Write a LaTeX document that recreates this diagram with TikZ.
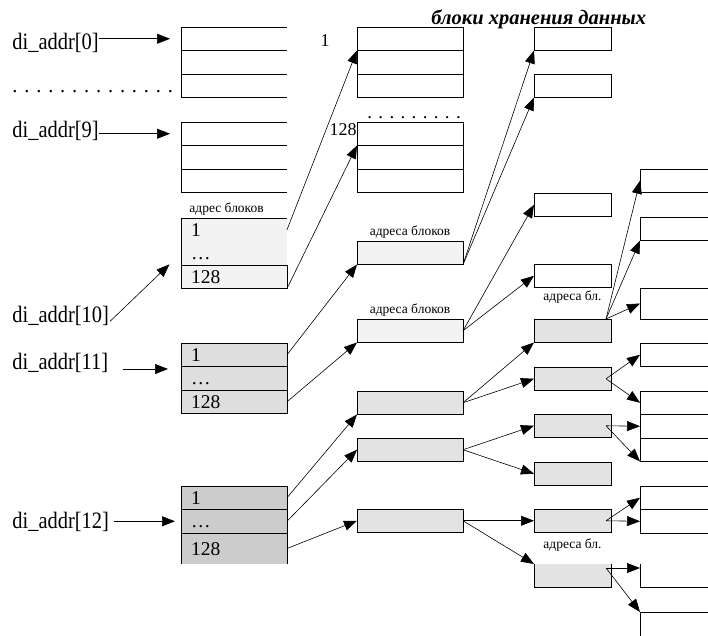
\documentclass[tikz,border=0pt]{standalone}
\usepackage{fontspec}
\setmainfont{Liberation Serif}
\newfontfamily\addrfont[FakeStretch=0.87]{Liberation Serif}
\usetikzlibrary{positioning,arrows.meta}

\definecolor{palecell}{gray}{0.95}
\definecolor{midcell}{gray}{0.89}
\definecolor{thickcell}{gray}{0.87}
\definecolor{deepcell}{gray}{0.80}

\begin{document}
\begin{tikzpicture}[x=1pt, y=-1pt, line width=0.8pt,
  blk/.style={rectangle, inner sep=0pt, outer sep=0pt, minimum height=23.5pt, anchor=north west},
  acol/.style={blk, text width=86pt, inner xsep=10pt, align=left, text height=13pt, text depth=0pt, font=\fontsize{19.5}{21}\selectfont},
  ccol/.style={blk, minimum width=77pt},
  dcol/.style={blk, minimum width=68pt},
  ptr/.style={-{Triangle[length=13pt,width=10pt]}, line width=0.6pt},
  addr/.style={inner sep=0pt, anchor=base west, font=\addrfont\fontsize{23.5}{25}\selectfont},
  idx/.style={inner sep=0pt, anchor=base east, font=\fontsize{18}{20}\selectfont},
  note/.style={inner sep=0pt, font=\fontsize{13.5}{15}\selectfont}]
\useasboundingbox (0,0) rectangle (708,635);

\node[inner sep=0pt, anchor=base west, font=\fontsize{20.5}{22}\selectfont\bfseries\itshape] (title) at (431,24) {блоки хранения данных};

% inode addresses
\node[addr] (l0) at (12,49) {di\_addr[0]};
\node[addr, font=\fontsize{20.5}{22}\selectfont] (ldots) at (12,92) {. . . . . . . . . . . . . .};
\node[addr] (l9) at (12,137) {di\_addr[9]};
\node[addr] (l10) at (12,322) {di\_addr[10]};
\node[addr] (l11) at (12,369) {di\_addr[11]};
\node[addr] (l12) at (12,528) {di\_addr[12]};

% column A
\node[acol] (a0a) at (181,27) {};
\node[acol, below=0pt of a0a] (a0b) {};
\node[acol, below=0pt of a0b] (a0c) {};
\node[acol] (a1a) at (181,122) {};
\node[acol, below=0pt of a1a] (a1b) {};
\node[acol, below=0pt of a1b] (a1c) {};
\node[acol, fill=palecell] (a3a) at (181,218) {1};
\node[acol, fill=palecell, below=0pt of a3a] (a3b) {…};
\node[acol, fill=palecell, draw, below=0pt of a3b] (a3c) {128};
\node[note, above right=2pt and 8pt of a3a.north west] (n3) {адрес блоков};
\node[acol, fill=thickcell, draw] (a4a) at (181,343) {1};
\node[acol, fill=thickcell, draw, below=0pt of a4a] (a4b) {…};
\node[acol, fill=thickcell, draw, below=0pt of a4b] (a4c) {128};
\node[acol, fill=deepcell, draw] (a5a) at (181,486) {1};
\node[acol, fill=deepcell, draw, below=0pt of a5a] (a5b) {…};
\node[acol, fill=deepcell, minimum height=31pt, below=0pt of a5b] (a5c) {128};

\foreach \c in {a0a,a0b,a0c,a1a,a1b,a1c}
  \draw (\c.north east) -- (\c.north west) -- (\c.south west) -- (\c.south east);
\draw (a3a.north east) -- (a3a.north west) -- (a3b.south west);
\draw (a5c.south west) -- (a5c.north west) -- (a5c.north east) -- (a5c.south east);

% column B
\node[idx] (one) at (330,46) {1};
\node[acol, draw] (b0a) at (357,27) {};
\node[acol, draw, below=0pt of b0a] (b0b) {};
\node[acol, draw, below=0pt of b0b] (b0c) {};
\node[addr, font=\fontsize{19}{21}\selectfont] (bdots) at (367,118) {. . . . . . . . .};
\node[idx] (last) at (357,135) {128};
\node[acol, draw] (b1a) at (357,122) {};
\node[acol, draw, below=0pt of b1a] (b1b) {};
\node[acol, draw, below=0pt of b1b] (b1c) {};
\node[acol, draw, fill=palecell] (b3) at (357,241) {};
\node[note, above=2pt of b3] (n4) {адреса блоков};
\node[acol, draw, fill=palecell] (b4) at (357,319) {};
\node[note, above=2pt of b4] (n5) {адреса блоков};
\node[acol, draw, fill=midcell] (b5) at (357,391) {};
\node[acol, draw, fill=midcell] (b6) at (357,438) {};
\node[acol, draw, fill=midcell] (b7) at (357,509) {};

% column C
\node[ccol, draw] (c1) at (534,27) {};
\node[ccol, draw] (c2) at (534,74) {};
\node[ccol, draw] (c3) at (534,193) {};
\node[ccol, draw] (c4) at (534,264) {};
\node[note, below=3pt of c4] (n6) {адреса бл.};
\node[ccol, draw, fill=midcell] (c5) at (534,319) {};
\node[ccol, draw, fill=midcell] (c6) at (534,367) {};
\node[ccol, draw, fill=midcell] (c7) at (534,414) {};
\node[ccol, draw, fill=midcell] (c8) at (534,462) {};
\node[ccol, draw, fill=midcell] (c9) at (534,509) {};
\node[note, below=6pt of c9] (n7) {адреса бл.};
\node[ccol, fill=midcell] (c10) at (534,564) {};
\draw (c10.north west) -- (c10.south west) -- (c10.south east) -- (c10.north east);

% column D
\node[dcol] (d1) at (640,169) {};
\node[dcol] (d2) at (640,217) {};
\node[dcol, minimum height=31pt] (d3) at (640,288) {};
\node[dcol] (d4) at (640,343) {};
\node[dcol] (d5a) at (640,391) {};
\node[dcol, below=0pt of d5a] (d5b) {};
\node[dcol, below=0pt of d5b] (d5c) {};
\node[dcol] (d6a) at (640,486) {};
\node[dcol, below=0pt of d6a] (d6b) {};
\node[dcol] (d7) at (640,564) {};
\node[dcol] (d8) at (640,612) {};
\foreach \c in {d1,d2,d3,d4,d5a,d5b,d5c,d6a,d6b}
  \draw (\c.north east) -- (\c.north west) -- (\c.south west) -- (\c.south east);
\draw (d7.north west) -- (d7.south west) -- (d7.south east);
\draw (d8.north east) -- (d8.north west) -- (d8.south west);

% pointers from the inode
\draw[ptr, shorten >=11pt] (l0.east |- a0a.west) -- (a0a.west);
\draw[ptr, shorten >=11pt] (l9.east |- a1a.west) -- (a1a.west);
\draw[ptr, shorten <=1pt, shorten >=16pt] (l10.base east) -- (a3b.west);
\draw[ptr, shorten <=14pt, shorten >=13pt] (l11.base east) -- (l11.base east -| a4b.west);
\draw[ptr, shorten <=5pt, shorten >=6pt] (l12.east |- a5b.west) -- (a5b.west);

% A -> B
\draw[ptr] (a3a.east) -- (b0a.south west);
\draw[ptr] (a3c.south east) -- (b1b.north west);
\draw[ptr] (a4a.east) -- (b3.south west);
\draw[ptr] (a4c.east) -- (b4.south west);
\draw[ptr] (a5a.east) -- (b5.south west);
\draw[ptr] (a5b.east) -- (b6.west);
\draw[ptr] (a5c.east) -- (b7.west);

% B -> C
\draw[ptr] (b3.south east) -- (c1.south west);
\draw[ptr] (b3.south east) -- (c2.south west);
\draw[ptr] (b4.east) -- (c3.west);
\draw[ptr] (b4.east) -- (c4.west);
\draw[ptr] (b5.east) -- (c5.south west);
\draw[ptr] (b5.east) -- (c6.west);
\draw[ptr] (b6.east) -- (c7.west);
\draw[ptr] (b6.east) -- (c8.west);
\draw[ptr] (b7.east) -- (c9.west);
\draw[ptr] (b7.east) -- (c10.north west);

% C -> D
\coordinate (s5) at ([xshift=-5pt]c5.north east);
\coordinate (s6) at ([xshift=-5pt]c6.east);
\coordinate (s7) at ([xshift=-5pt]c7.east);
\coordinate (s9) at ([xshift=-5pt]c9.east);
\coordinate (s10) at ([xshift=-5pt,yshift=-4pt]c10.north east);
\draw[ptr] (s5) -- (d1.west);
\draw[ptr] (s5) -- (d2.south west);
\draw[ptr] (s5) -- (d3.west);
\draw[ptr] (s6) -- (d4.west);
\draw[ptr] (s6) -- (d5a.west);
\draw[ptr] (s7) -- (d5b.west);
\draw[ptr] (s7) -- (d5c.south west);
\draw[ptr] (s9) -- (d6a.west);
\draw[ptr] (s9) -- (d6b.west);
\draw[ptr] (s10) -- (s10 -| d7.west);
\draw[ptr] (s10) -- (d8.north west);
\end{tikzpicture}
\end{document}
